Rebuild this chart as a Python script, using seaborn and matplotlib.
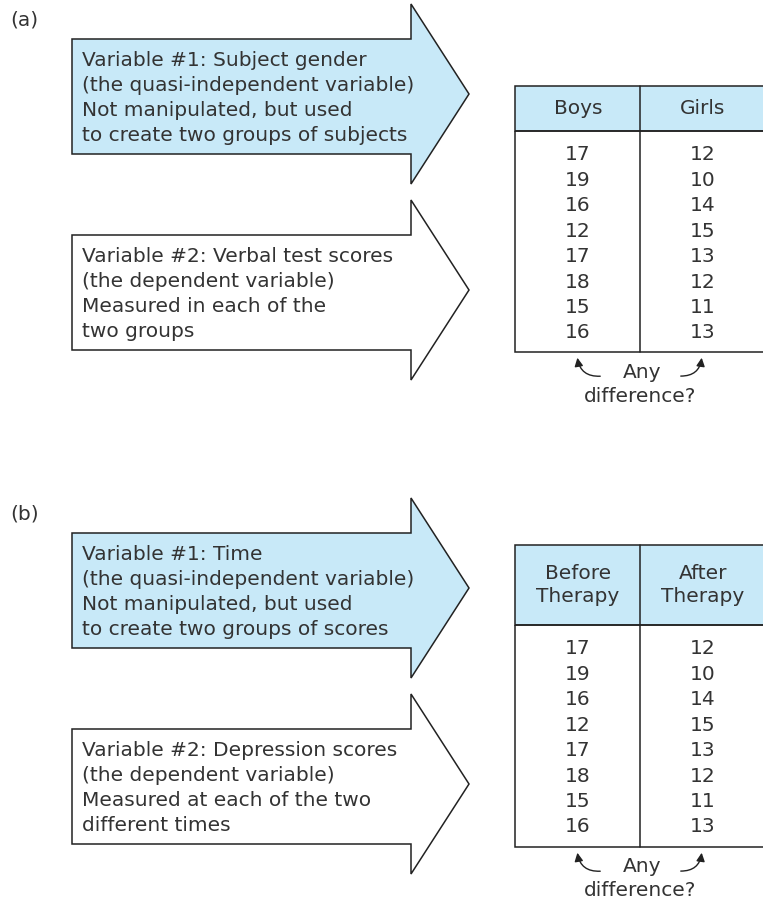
import matplotlib.pyplot as plt
import seaborn as sns
from matplotlib.patches import Polygon, Rectangle, FancyArrowPatch

sns.set_theme(style="white")
plt.rcParams['font.family'] = ['DejaVu Sans']

# content
panel_labels = ["(a)", "(b)"]
var1_text = [
    ["Variable #1: Subject gender", "(the quasi-independent variable)",
     "Not manipulated, but used", "to create two groups of subjects"],
    ["Variable #1: Time", "(the quasi-independent variable)",
     "Not manipulated, but used", "to create two groups of scores"],
]
var2_text = [
    ["Variable #2: Verbal test scores", "(the dependent variable)",
     "Measured in each of the", "two groups"],
    ["Variable #2: Depression scores", "(the dependent variable)",
     "Measured at each of the two", "different times"],
]
headers = [["Boys", "Girls"], ["Before\nTherapy", "After\nTherapy"]]
col1 = [17, 19, 16, 12, 17, 18, 15, 16]
col2 = [12, 10, 14, 15, 13, 12, 11, 13]

blue = "#c8e9f8"
ink = "#333333"
fs = 14.5

fig = plt.figure(figsize=(7.63, 9.01), dpi=100)
ax = fig.add_axes([0, 0, 1, 1])
ax.set_xlim(0, 763)
ax.set_ylim(901, 0)
ax.axis("off")


def big_arrow(y0, fill):
    # y0 = top of the arrow head
    pts = [(72, y0 + 35), (411, y0 + 35), (411, y0), (469, y0 + 90),
           (411, y0 + 180), (411, y0 + 150), (72, y0 + 150)]
    ax.add_patch(Polygon(pts, closed=True, facecolor=fill, edgecolor="#222222", lw=1.1))


for p, off in enumerate([0, 494]):
    ax.text(10, 20 + off, panel_labels[p], fontsize=fs, color=ink, va="center")
    big_arrow(4 + off, blue)
    big_arrow(200 + off, "white")
    for i, line in enumerate(var1_text[p]):
        ax.text(82, 60 + off + i * 25.3, line, fontsize=fs, color=ink, va="center")
    for i, line in enumerate(var2_text[p]):
        ax.text(82, 256 + off + i * 25.3, line, fontsize=fs, color=ink, va="center")

    # table
    top = 86 + off if p == 0 else 545
    hdr_bot = 131 + off if p == 0 else 625
    bot = 352 + off if p == 0 else 847
    ax.add_patch(Rectangle((515, top), 260, hdr_bot - top, facecolor=blue,
                           edgecolor="#222222", lw=1.1))
    ax.add_patch(Rectangle((515, hdr_bot), 260, bot - hdr_bot, facecolor="none",
                           edgecolor="#222222", lw=1.1))
    ax.plot([640, 640], [top, bot], color="#222222", lw=1.1)
    for j, cx in enumerate([578, 703]):
        ax.text(cx, (top + hdr_bot) / 2, headers[p][j], fontsize=fs, color=ink,
                ha="center", va="center", linespacing=1.25)
    first = hdr_bot + 24
    for i, (a, b) in enumerate(zip(col1, col2)):
        ax.text(578, first + i * 25.4, str(a), fontsize=fs, color=ink, ha="center", va="center")
        ax.text(703, first + i * 25.4, str(b), fontsize=fs, color=ink, ha="center", va="center")

    ax.text(642, bot + 20, "Any", fontsize=fs, color=ink, ha="center", va="center")
    ax.text(640, bot + 44, "difference?", fontsize=fs, color=ink, ha="center", va="center")
    ax.add_patch(FancyArrowPatch((603, bot + 24), (577, bot + 3),
                                 connectionstyle="arc3,rad=-0.5", arrowstyle="-|>,head_length=5,head_width=2.5",
                                 color="#222222", lw=1))
    ax.add_patch(FancyArrowPatch((678, bot + 24), (702, bot + 3),
                                 connectionstyle="arc3,rad=0.5", arrowstyle="-|>,head_length=5,head_width=2.5",
                                 color="#222222", lw=1))

fig.savefig("out.png", dpi=100)
